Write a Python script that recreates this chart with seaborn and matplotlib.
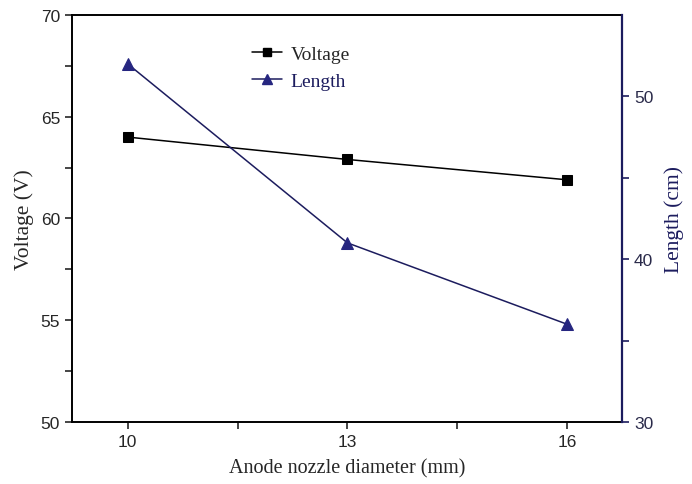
import matplotlib
matplotlib.use("Agg")
import matplotlib.pyplot as plt
from matplotlib.ticker import MultipleLocator, FixedLocator
from matplotlib.lines import Line2D
import seaborn as sns
import pandas as pd

diameter = [10, 13, 16]
voltage = [64.0, 62.9, 61.9]
length = [52.0, 41.0, 36.0]

sns.set_style("ticks")
plt.rcParams['font.family'] = ['Liberation Sans', 'DejaVu Sans']

df = pd.DataFrame({"d": diameter, "v": voltage, "l": length})

navy = "#1c1c5e"
tri_col = "#262680"

fig = plt.figure(figsize=(6.92, 4.85), dpi=100)
ax = fig.add_axes([0.104, 0.128, 0.795, 0.839])
ax2 = ax.twinx()

sns.lineplot(data=df, x="d", y="v", ax=ax, color="black", marker="s",
             markersize=7, markeredgecolor="black", linewidth=1.1)
sns.lineplot(data=df, x="d", y="l", ax=ax2, color=navy, marker="^",
             markersize=9, markerfacecolor=tri_col, markeredgecolor=tri_col,
             linewidth=1.1)

ax.set_xlim(9.24, 16.75)
ax.set_ylim(50, 70)
ax2.set_ylim(30, 55)

ax.xaxis.set_major_locator(FixedLocator([10, 13, 16]))
ax.xaxis.set_minor_locator(FixedLocator([11.5, 14.5]))
ax.yaxis.set_major_locator(MultipleLocator(5))
ax.yaxis.set_minor_locator(MultipleLocator(2.5))
ax2.yaxis.set_major_locator(FixedLocator([30, 40, 50]))
ax2.yaxis.set_minor_locator(FixedLocator([35, 45]))

for a in (ax, ax2):
    a.tick_params(which="major", direction="out", length=5, width=1.2, labelsize=12.5)
    a.tick_params(which="minor", direction="out", length=5, width=1.2)
ax2.tick_params(axis="y", which="both", colors=navy, labelcolor="#2a2a4a")

for s in ["left", "bottom", "top"]:
    ax.spines[s].set_visible(True)
    ax.spines[s].set_linewidth(1.4)
    ax.spines[s].set_color("black")
ax.spines["right"].set_visible(False)
for s in ["left", "bottom", "top"]:
    ax2.spines[s].set_visible(False)
ax2.spines["right"].set_visible(True)
ax2.spines["right"].set_color(navy)
ax2.spines["right"].set_linewidth(1.6)

serif = ['Liberation Serif', 'DejaVu Serif']
ax.set_xlabel("Anode nozzle diameter (mm)", family=serif, fontsize=14.5, labelpad=7)
ax.set_ylabel("Voltage (V)", family=serif, fontsize=15.5, labelpad=5)
ax2.set_ylabel("Length (cm)", family=serif, fontsize=15.5, color=navy, labelpad=8)

handles = [
    Line2D([], [], color="black", marker="s", markersize=6, linewidth=1.1),
    Line2D([], [], color=navy, marker="^", markersize=7,
           markerfacecolor=tri_col, markeredgecolor=tri_col, linewidth=1.1),
]
leg = ax.legend(handles, ["Voltage", "Length"], loc="upper left",
                bbox_to_anchor=(0.309, 0.95), frameon=False, borderpad=0,
                handlelength=1.55, handletextpad=0.45, labelspacing=0.5,
                prop={"family": serif, "size": 14})
leg.get_texts()[1].set_color(navy)

fig.savefig("out.png", dpi=100)
